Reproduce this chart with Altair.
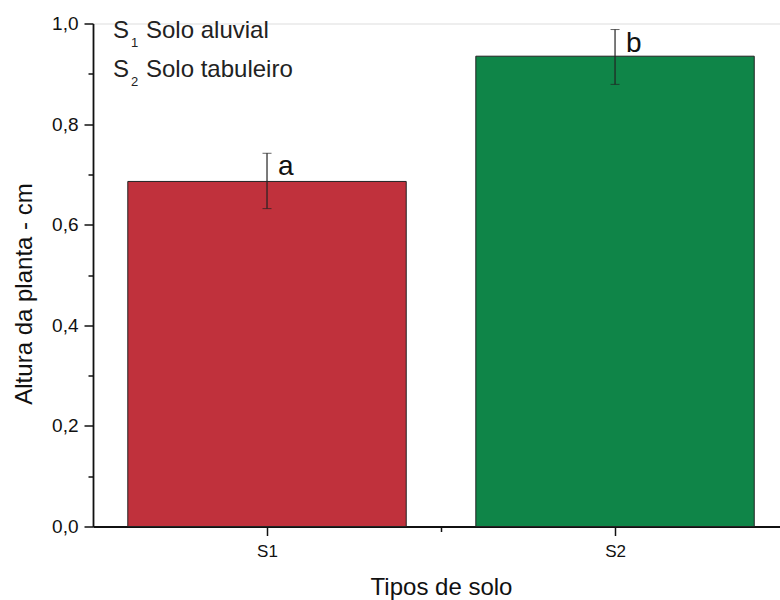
import altair as alt
import pandas as pd

# ---- data ----
categories = ["S1", "S2"]
positions = [1, 2]
means = [0.686, 0.935]
err_low = [0.632, 0.879]
err_high = [0.742, 0.988]
letters = ["a", "b"]
bar_colors = ["#C0313C", "#0F8548"]

legend_keys = ["S", "S"]
legend_subs = ["1", "2"]
legend_names = ["Solo aluvial", "Solo tabuleiro"]

y_ticks = [round(i * 0.1, 1) for i in range(11)]
x_ticks = [1, 1.5, 2]

df = pd.DataFrame({
    "cat": categories, "pos": positions, "mean": means,
    "lo": err_low, "hi": err_high, "letter": letters,
})

FONT = "Liberation Sans"
W, H = 687, 503
Y_TITLE = "Altura da planta - cm"
X_TITLE = "Tipos de solo"

x_label_expr = " : ".join(
    [f"datum.value == {p} ? '{c}'" for p, c in zip(positions, categories)]
) + " : ''"

x_scale = alt.Scale(domain=[0.5, 2.474], nice=False, zero=False)
y_scale = alt.Scale(domain=[0, 1.0], nice=False)

x_axis = alt.Axis(
    values=x_ticks, labelExpr=x_label_expr, title=X_TITLE,
    titleFont=FONT, titleFontSize=24, titleFontWeight="normal", titleColor="#111",
    titleX=348, titleY=67.5, titleBaseline="alphabetic",
    labelFont=FONT, labelFontSize=17, labelColor="#111", labelPadding=8,
    tickSize={"condition": {"test": "datum.value == 1.5", "value": 5}, "value": 9},
    tickColor="#111", tickWidth=1.5, domainColor="#111", domainWidth=1.8,
    grid=False,
)
y_axis = alt.Axis(
    values=y_ticks,
    labelExpr="(datum.value * 10) % 2 == 0 ? replace(format(datum.value, '.1f'), '.', ',') : ''",
    title=Y_TITLE,
    titleFont=FONT, titleFontSize=24, titleFontWeight="normal", titleColor="#111",
    titleX=-57, titleY=270,
    labelFont=FONT, labelFontSize=19, labelColor="#111", labelPadding=6,
    tickSize={"condition": {"test": "(datum.value * 10) % 2 != 0", "value": 5}, "value": 9},
    tickColor="#111", tickWidth=1.5, domainColor="#111", domainWidth=1.8,
    grid=False,
)

base = alt.Chart(df)

bars = base.transform_calculate(
    x_lo="datum.pos - 0.4", x_hi="datum.pos + 0.4"
).mark_bar(stroke="#222", strokeWidth=1).encode(
    x=alt.X("x_lo:Q", scale=x_scale, axis=x_axis, title=X_TITLE),
    x2="x_hi:Q",
    y=alt.Y("mean:Q", scale=y_scale, axis=y_axis, title=Y_TITLE),
    y2=alt.datum(0),
    color=alt.Color("cat:N", scale=alt.Scale(domain=categories, range=bar_colors), legend=None),
)

err = base.mark_errorbar(ticks={"size": 9, "color": "#222", "strokeWidth": 1.2},
                         rule={"strokeWidth": 1.2, "color": "#222"}).encode(
    x=alt.X("pos:Q", scale=x_scale, title=X_TITLE),
    y=alt.Y("lo:Q", scale=y_scale, title=Y_TITLE),
    y2="hi:Q",
)

letters_layer = base.mark_text(
    align="left", baseline="alphabetic", dx=11, dy=22,
    font=FONT, fontSize=28, color="#111",
).encode(
    x=alt.X("pos:Q", scale=x_scale, title=X_TITLE),
    y=alt.Y("hi:Q", scale=y_scale, title=Y_TITLE),
    text="letter:N",
)

legend_layers = []
for i, (k, s, n) in enumerate(zip(legend_keys, legend_subs, legend_names)):
    ybase = 14.5 + 39 * i
    ld = pd.DataFrame({"k": [k], "s": [s], "n": [n]})
    lc = alt.Chart(ld)
    legend_layers.append(lc.mark_text(align="left", baseline="alphabetic", font=FONT,
                                      fontSize=24, color="#222").encode(
        x=alt.value(20), y=alt.value(ybase), text="k:N"))
    legend_layers.append(lc.mark_text(align="left", baseline="alphabetic", font=FONT,
                                      fontSize=13, color="#222").encode(
        x=alt.value(38), y=alt.value(ybase + 9), text="s:N"))
    legend_layers.append(lc.mark_text(align="left", baseline="alphabetic", font=FONT,
                                      fontSize=24, color="#222").encode(
        x=alt.value(53), y=alt.value(ybase), text="n:N"))

chart = alt.layer(bars, err, letters_layer, *legend_layers).properties(
    width=W, height=H,
    autosize=alt.AutoSizeParams(type="none"),
    padding={"left": 93, "top": 23.5, "right": 0, "bottom": 73.5},
).configure_view(stroke=None).configure(background="white")

chart.save("out.html", embed_options={"renderer": "svg", "actions": False})
